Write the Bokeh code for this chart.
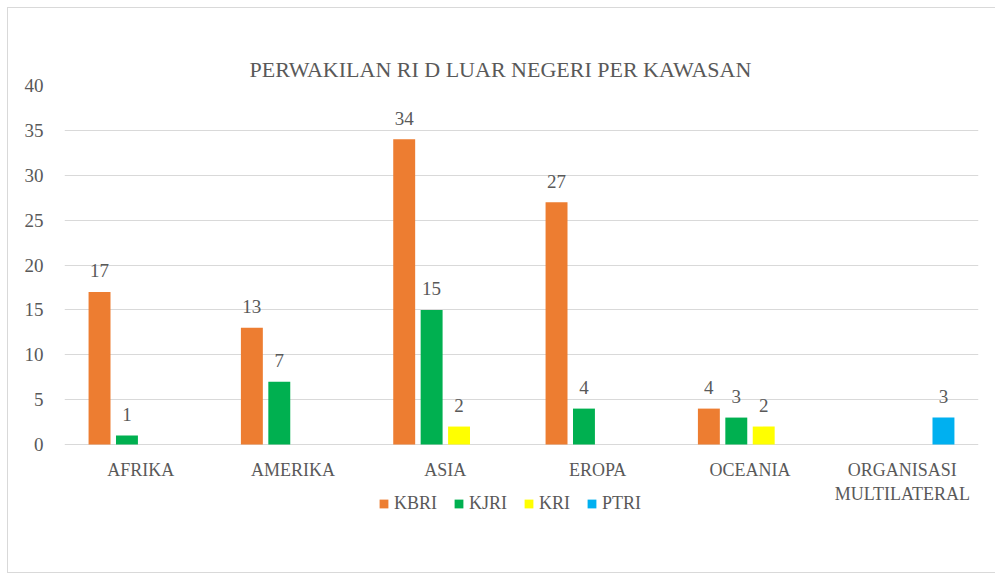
from bokeh.plotting import figure
from bokeh.models import (ColumnDataSource, FactorRange, Range1d, FixedTicker,
                          Legend, LegendItem)
from bokeh.transform import dodge
from bokeh.core.properties import value
from bokeh.embed import file_html
from bokeh.resources import INLINE

categories = ["AFRIKA", "AMERIKA", "ASIA", "EROPA", "OCEANIA", "ORGANISASI MULTILATERAL"]
category_labels = ["AFRIKA", "AMERIKA", "ASIA", "EROPA", "OCEANIA", "ORGANISASI\nMULTILATERAL"]
series_names = ["KBRI", "KJRI", "KRI", "PTRI"]
kbri = [17, 13, 34, 27, 4, 0]
kjri = [1, 7, 15, 4, 3, 0]
kri = [0, 0, 2, 0, 2, 0]
ptri = [0, 0, 0, 0, 0, 3]
y_ticks = [0, 5, 10, 15, 20, 25, 30, 35, 40]
colors = ["#ED7D31", "#00B050", "#FFFF00", "#00B0F0"]
title_text = "PERWAKILAN RI D LUAR NEGERI PER KAWASAN"

FONT = "Liberation Serif"
TXT = "#595959"
G = "#D9D9D9"

# layout: value 40 at 85px, value 0 at 444px, frame extends to canvas bottom (573px)
PX_PER_UNIT = (444 - 85) / 40.0
Y_MIN = -(573 - 444) / PX_PER_UNIT

bg = (f"linear-gradient({G},{G}) 7px 7px/1px 566px no-repeat, "
      f"linear-gradient({G},{G}) 7px 7px/990px 1px no-repeat, "
      f"linear-gradient({G},{G}) 7px 572px/990px 1px no-repeat, white")

p = figure(width=995, height=573, x_range=FactorRange(*categories), y_range=Range1d(Y_MIN, 40),
           output_backend="svg", toolbar_location=None, title=title_text,
           min_border_left=64, min_border_right=17, min_border_top=85, min_border_bottom=0,
           styles={"background": bg})
p.border_fill_alpha = 0
p.background_fill_alpha = 0
p.title.align = "left"
p.title.offset = 185
p.title.text_font = FONT
p.title.text_font_size = "22px"
p.title.text_font_style = "normal"
p.title.text_color = TXT
p.title.standoff = 8
p.outline_line_color = None

all_vals = [kbri, kjri, kri, ptri]
offsets = [-0.27, -0.09, 0.09, 0.27]
items = []
for name, vals, col, off in zip(series_names, all_vals, colors, offsets):
    src = ColumnDataSource(dict(cat=categories, v=vals))
    r = p.vbar(x=dodge("cat", off, range=p.x_range), top="v", width=0.144, source=src,
               fill_color=col, line_color=None)
    items.append(LegendItem(label=name, renderers=[r]))
    lab = ColumnDataSource(dict(cat=[c for c, v in zip(categories, vals) if v > 0],
                                v=[v for v in vals if v > 0],
                                t=[str(v) for v in vals if v > 0]))
    p.text(x=dodge("cat", off, range=p.x_range), y="v", text="t", source=lab,
           text_align="center", text_baseline="middle", y_offset=-21,
           text_font=value(FONT), text_font_size="19px", text_color=TXT)

# category labels under the zero line
cat_src = ColumnDataSource(dict(cat=categories, lbl=category_labels, y0=[0] * len(categories)))
p.text(x="cat", y="y0", text="lbl", source=cat_src, text_align="center", text_baseline="top",
       y_offset=15, text_font=value(FONT), text_font_size="18px", text_color=TXT,
       text_line_height=1.2)

p.xaxis.visible = False
p.yaxis.ticker = FixedTicker(ticks=y_ticks)
p.yaxis.axis_line_color = None
p.yaxis.major_tick_line_color = None
p.yaxis.minor_tick_line_color = None
p.yaxis.major_label_standoff = 15
p.yaxis.major_label_text_font = FONT
p.yaxis.major_label_text_font_size = "19px"
p.yaxis.major_label_text_color = TXT

p.xgrid.grid_line_color = None
p.ygrid.grid_line_color = G
p.ygrid.grid_line_width = 1

legend = Legend(items=items, orientation="horizontal", location=(314, 59),
                margin=0, padding=0, spacing=16, glyph_width=11, glyph_height=11,
                label_standoff=5, border_line_color=None, background_fill_alpha=0)
legend.label_text_font = FONT
legend.label_text_font_size = "18px"
legend.label_text_color = TXT
legend.label_text_font_style = "normal"
p.add_layout(legend, "center")

open("out.html", "w").write(file_html(p, INLINE))
